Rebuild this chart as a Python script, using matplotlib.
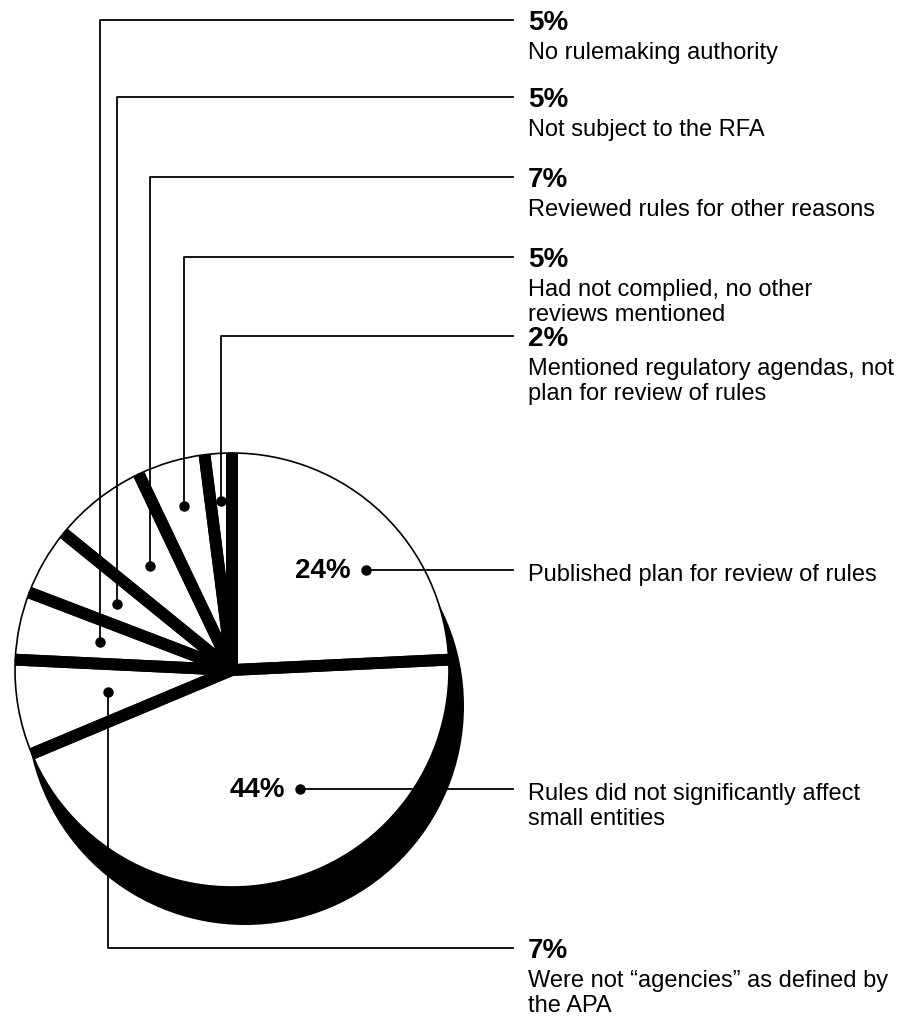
import numpy as np
import matplotlib
matplotlib.use('Agg')
import matplotlib.pyplot as plt
from matplotlib.patches import Circle

# Fonte parecida com Helvetica
plt.rcParams['font.family'] = ['Liberation Sans', 'DejaVu Sans']

# --- dados (ordem horária a partir do topo) ---
percentuais = [24, 44, 7, 5, 5, 7, 5, 2]
rotulos_pct = ['24%', '44%', '7%', '5%', '5%', '7%', '5%', '2%']
descricoes = [
    'Published plan for review of rules',
    'Rules did not significantly affect\nsmall entities',
    'Were not \u201cagencies\u201d as defined by\nthe APA',
    'No rulemaking authority',
    'Not subject to the RFA',
    'Reviewed rules for other reasons',
    'Had not complied, no other\nreviews mentioned',
    'Mentioned regulatory agendas, not\nplan for review of rules',
]

# --- layout (pixels da imagem 915x1022) ---
W, H = 915, 1022
CX, CY, R = 232, 670, 217          # centro e raio da pizza em pixels


def px(x):
    return (x - CX) / R


def py(y):
    return (CY - y) / R


# posição do ponto de cada rótulo: (desvio angular, fração do raio)
ponto_desvio = [-9.4, 17.0, 0.0, 0.0, 0.0, 0.0, 0.0, 0.0]
ponto_raio = [0.77, 0.63, 0.58, 0.62, 0.61, 0.61, 0.79, 0.78]
# altura (pixel) da linha horizontal dos rótulos em cotovelo (None = linha direta)
linha_y = [None, None, 948, 20, 97, 177, 257, 336]
fim_linha = 513
x_texto = 528

fig = plt.figure(figsize=(W / 100, H / 100), dpi=100)
fig.patch.set_facecolor('white')
ax = fig.add_axes([0, 0, 1, 1])

fatias, _ = ax.pie(percentuais, startangle=90, counterclock=False, radius=1,
                   wedgeprops=dict(facecolor='white', edgecolor='black', linewidth=1.2, zorder=2))

# sombra preta deslocada para baixo/direita
ax.add_patch(Circle((13 / R, -36 / R), 1 + 2 / R, facecolor='black', edgecolor='none', zorder=1))

# separadores grossos entre as fatias
for w in fatias:
    for a in (w.theta1, w.theta2):
        t = np.deg2rad(a)
        ax.plot([0, np.cos(t)], [0, np.sin(t)], color='black', lw=8.5,
                solid_capstyle='butt', zorder=3)

# rótulos com pontos e linhas de chamada
for i, w in enumerate(fatias):
    meio = np.deg2rad((w.theta1 + w.theta2) / 2 + ponto_desvio[i])
    x0 = ponto_raio[i] * np.cos(meio)
    y0 = ponto_raio[i] * np.sin(meio)
    ax.plot(x0, y0, 'o', color='black', ms=6.5, zorder=5)

    linhas = descricoes[i].split('\n')
    if linha_y[i] is None:
        # chamada horizontal direta, percentual dentro da fatia
        ax.plot([x0, px(fim_linha)], [y0, y0], color='black', lw=1.3, zorder=5)
        ax.text(x0 - 15 / R, y0 - 8 / R, rotulos_pct[i], ha='right', va='baseline',
                fontsize=20, fontweight='bold', zorder=6)
        yl = CY - y0 * R
        for k, txt in enumerate(linhas):
            ax.text(px(x_texto), py(yl + 11 + 25 * k), txt, ha='left', va='baseline', fontsize=17)
    else:
        yl = linha_y[i]
        ax.plot([x0, x0, px(fim_linha)], [y0, py(yl), py(yl)], color='black', lw=1.3, zorder=5)
        ax.text(px(x_texto), py(yl + 10), rotulos_pct[i], ha='left', va='baseline',
                fontsize=20, fontweight='bold')
        for k, txt in enumerate(linhas):
            ax.text(px(x_texto), py(yl + 39 + 25 * k), txt, ha='left', va='baseline', fontsize=17)

ax.set_xlim(px(0), px(W))
ax.set_ylim(py(H), py(0))
ax.set_aspect('auto')
ax.axis('off')

fig.savefig('out.png', dpi=100, facecolor='white')
plt.close(fig)
